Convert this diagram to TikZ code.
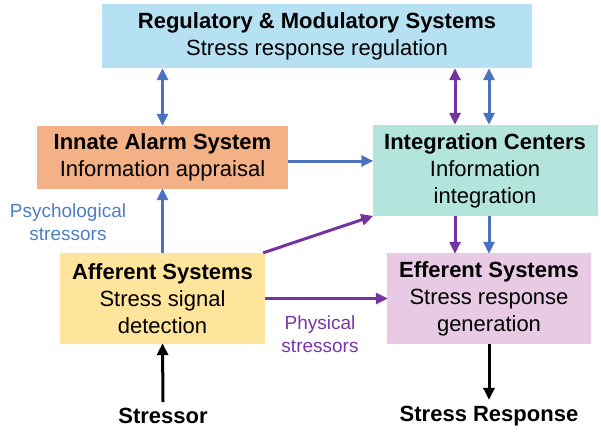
\documentclass[tikz,border=0pt]{standalone}
\usepackage{fontspec}
\setmainfont{Liberation Sans}
\usetikzlibrary{arrows.meta,calc}
\definecolor{regfill}{HTML}{B5E1F3}
\definecolor{alarmfill}{HTML}{F3B185}
\definecolor{integfill}{HTML}{B3E5DC}
\definecolor{afffill}{HTML}{FFE59C}
\definecolor{efffill}{HTML}{E9CAE5}
\definecolor{arrblue}{HTML}{4A72C0}
\definecolor{arrpurple}{HTML}{7433A0}
\definecolor{txtblue}{HTML}{4D7FC6}
\definecolor{txtpurple}{HTML}{7A35A6}
\tikzset{
  sysbox/.style={inner sep=0pt, align=center, font=\fontsize{22}{27}\selectfont},
  conn/.style={line width=3pt, -{Triangle[length=12pt,width=11pt]}, shorten >=-1pt},
  dconn/.style={line width=3pt, {Triangle[length=12pt,width=11pt]}-{Triangle[length=12pt,width=11pt]}},
  bluearr/.style={draw=arrblue, fill=arrblue},
  purplearr/.style={draw=arrpurple, fill=arrpurple},
  blackarr/.style={draw=black, fill=black},
  ann/.style={align=center, inner sep=0pt, font=\fontsize{19}{23}\selectfont},
  endtext/.style={inner sep=0pt, font=\fontsize{22}{26}\selectfont\bfseries}
}
\begin{document}
\begin{tikzpicture}[x=1pt,y=-1pt]
\useasboundingbox (0,0) rectangle (601,431);
\fill[white] (0,0) rectangle (601,431);

\node[sysbox, fill=regfill, minimum width=430pt, minimum height=64pt] (reg) at (317,36)
  {\textbf{Regulatory \& Modulatory Systems}\\Stress response regulation};
\node[sysbox, fill=alarmfill, minimum width=251pt, minimum height=63pt] (alarm) at (162.5,157.5)
  {\textbf{Innate Alarm System}\\Information appraisal};
\node[sysbox, fill=integfill, minimum width=225pt, minimum height=91pt] (integ) at (485,170.5)
  {\textbf{Integration Centers}\\Information\\integration};
\node[sysbox, fill=afffill, minimum width=205pt, minimum height=91pt] (aff) at (162.5,298.5)
  {\textbf{Afferent Systems}\\Stress signal\\detection};
\node[sysbox, fill=efffill, minimum width=204pt, minimum height=91pt] (eff) at (489,298.5)
  {\textbf{Efferent Systems}\\Stress response\\generation};

\node[endtext] (stressor) at (163,416) {Stressor};
\node[endtext] (resp) at (489,416) {Stress Response};

\node[ann, text=txtblue] (psych) at (68,222) {Psychological\\stressors};
\node[ann, text=txtpurple] (phys) at (320,334) {Physical\\stressors};

% Regulatory <-> Innate alarm
\draw[dconn, bluearr] (reg.south -| alarm.north) -- (alarm.north);
% Regulatory <-> Integration
\coordinate (pu) at ($(eff.north)+(-34,0)$);
\draw[dconn, purplearr] (reg.south -| pu) -- (integ.north -| pu);
\draw[dconn, bluearr] (reg.south -| eff.north) -- (integ.north -| eff.north);
% Innate -> Integration
\draw[conn, bluearr] (alarm.east |- 0,161) -- (integ.west |- 0,161);
% Afferent -> Innate
\draw[conn, bluearr] (aff.north) -- (alarm.south);
% Afferent -> Integration
\draw[conn, purplearr] ($(aff.north east)+(-2,0)$) -- (integ.south west);
% Afferent -> Efferent
\draw[conn, purplearr] (aff.east) -- (eff.west);
% Integration -> Efferent
\draw[conn, purplearr] (integ.south -| pu) -- (pu);
\draw[conn, bluearr] (integ.south -| eff.north) -- (eff.north);
% Stressor -> Afferent
\draw[conn, blackarr] ([yshift=6pt]stressor.north) -- (aff.south);
% Efferent -> Stress Response
\draw[conn, blackarr] (eff.south) -- ([yshift=7pt]resp.north);
\end{tikzpicture}
\end{document}
